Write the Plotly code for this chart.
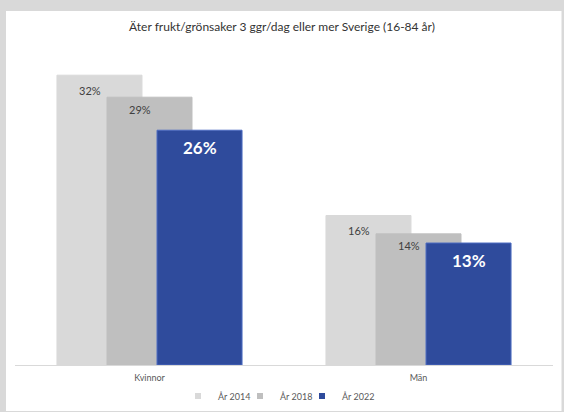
import plotly.graph_objects as go

# data
categories = ["Kvinnor", "Män"]
years = ["År 2014", "År 2018", "År 2022"]
values_2014 = [31.6, 16.3]
values_2018 = [29.2, 14.3]
values_2022 = [25.6, 13.3]

series = [values_2014, values_2018, values_2022]
colors = ["#d9d9d9", "#bfbfbf", "#2f4b9c"]
line_colors = ["#d9d9d9", "#bfbfbf", "#4c6bc2"]
offsets = [-0.344, -0.158, 0.028]
bar_width = 0.316
label_shift = [-0.035, -0.035, 0.0]
FONT = "Lato, Open Sans, sans-serif"
label_fonts = [
    dict(family=FONT, size=11, color="#404040"),
    dict(family=FONT, size=11, color="#404040"),
    dict(family=FONT, size=17, color="#ffffff"),
]
label_drop = [-15, -12, -17]

# one small legend per year so the entries can sit close together
legend_ids = ["legend", "legend2", "legend3"]
legend_px = [178, 240, 302]

fig = go.Figure()

for name, vals, col, lc, off in zip(years, series, colors, line_colors, offsets):
    fig.add_trace(
        go.Bar(
            x=categories,
            y=vals,
            name=name,
            width=bar_width,
            offset=off,
            marker=dict(color=col, line=dict(color=lc, width=1)),
            hoverinfo="skip",
            showlegend=False,
        )
    )

# small square legend entries (no data of their own)
for name, col, lid in zip(years, colors, legend_ids):
    fig.add_trace(
        go.Scatter(
            x=[None],
            y=[None],
            mode="markers",
            name=name,
            legend=lid,
            marker=dict(symbol="square", size=6, color=col),
            hoverinfo="skip",
        )
    )

# value labels inside the top of each bar
annotations = []
for i, vals in enumerate(series):
    for ci, v in enumerate(vals):
        annotations.append(
            dict(
                x=ci + offsets[i] + bar_width / 2 + label_shift[i],
                y=v,
                xref="x",
                yref="y",
                text=f"<b>{v:.0f}%</b>" if i == 2 else f"{v:.0f}%",
                showarrow=False,
                yshift=label_drop[i],
                font=label_fonts[i],
            )
        )

legends = {}
for lid, px in zip(legend_ids, legend_px):
    legends[lid] = dict(
        orientation="h",
        x=(px - 15) / 538,
        xanchor="left",
        y=-0.0966,
        yanchor="middle",
        font=dict(family=FONT, size=9, color="#595959"),
        bgcolor="rgba(0,0,0,0)",
        itemwidth=30,
    )

fig.update_layout(
    width=564,
    height=412,
    barmode="overlay",
    paper_bgcolor="#d9d9d9",
    plot_bgcolor="rgba(0,0,0,0)",
    margin=dict(l=15, r=11, t=44, b=47, autoexpand=False),
    title=dict(
        text="Äter frukt/grönsaker 3 ggr/dag eller mer Sverige (16-84 år)",
        x=0.5,
        xanchor="center",
        y=1 - 27 / 412,
        yanchor="middle",
        font=dict(family=FONT, size=12, color="#333333"),
    ),
    xaxis=dict(
        showline=True,
        linecolor="#d9d9d9",
        linewidth=1,
        ticks="",
        ticklabelstandoff=4,
        tickfont=dict(family=FONT, size=9, color="#595959"),
        range=[-0.5, 1.5],
        fixedrange=True,
    ),
    yaxis=dict(visible=False, range=[0, 35], fixedrange=True),
    showlegend=True,
    annotations=annotations,
    shapes=[
        dict(
            type="rect",
            xref="paper",
            yref="paper",
            x0=-0.0167,
            x1=1.0158,
            y0=-0.1433,
            y1=1.1028,
            fillcolor="#ffffff",
            line=dict(width=0),
            layer="below",
        )
    ],
    **legends,
)

fig.write_html(
    "out.html",
    config={"displayModeBar": False},
    post_script="document.body.style.margin='0px';document.body.style.overflow='hidden';",
)
